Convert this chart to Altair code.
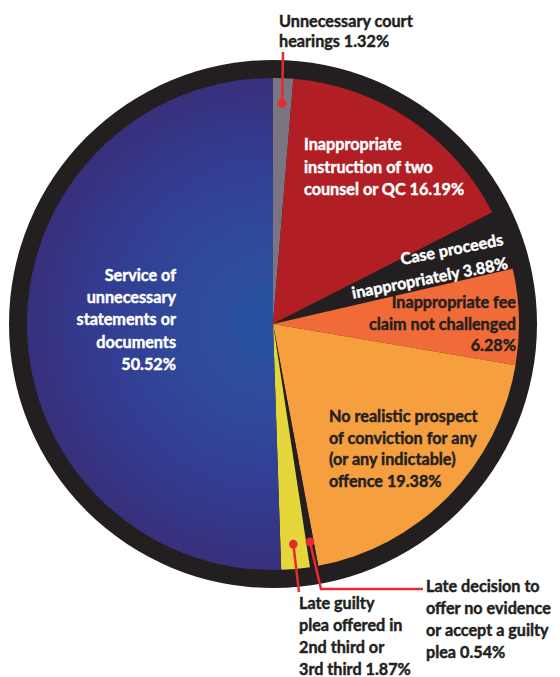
import altair as alt
import pandas as pd
import numpy as np

# ---------------- data ----------------
categories = [
    "Unnecessary court hearings",
    "Inappropriate instruction of two counsel or QC",
    "Case proceeds inappropriately",
    "Inappropriate fee claim not challenged",
    "No realistic prospect of conviction for any (or any indictable) offence",
    "Late decision to offer no evidence or accept a guilty plea",
    "Late guilty plea offered in 2nd third or 3rd third",
    "Service of unnecessary statements or documents",
]
values = [1.32, 16.19, 3.88, 6.28, 19.38, 0.54, 1.87, 50.52]
colors = ["#7a7580", "#b11f25", "#231f20", "#f06b37", "#f59f3e", "#231f20", "#e5d63b", "#34348a"]

label_lines = [
    ["Unnecessary court", "hearings {v}"],
    ["Inappropriate", "instruction of two", "counsel or QC {v}"],
    ["Case proceeds", "inappropriately {v}"],
    ["Inappropriate fee", "claim not challenged", "{v}"],
    ["No realistic prospect", "of conviction for any", "(or any indictable)", "offence {v}"],
    ["Late decision to", "offer no evidence", "or accept a guilty", "plea {v}"],
    ["Late guilty", "plea offered in", "2nd third or", "3rd third {v}"],
    ["Service of", "unnecessary", "statements or", "documents", "{v}"],
]

# ---------------- layout (page pixels) ----------------
OFF = 8
CX, CY = 273, 324
R_IN, R_OUT = 246, 264
DARK = "#231f20"
WHITE = "#ffffff"
RED = "#e62a2f"
FONT = "Lato"
FS = 16.2
FW = "bold"

# x, y (first baseline), align, angle, lineHeight, color
label_layout = [
    (279, 27, "left", 0, 20, DARK),
    (304, 150, "left", 0, 22.5, WHITE),
    (504, 245, "right", 349, 24, WHITE),
    (516, 308, "right", 0, 21.5, DARK),
    (329, 422, "left", 0, 21.7, DARK),
    (426, 592, "left", 0, 22, DARK),
    (299, 609, "left", 0, 22, DARK),
    (176, 281, "right", 0, 22.2, WHITE),
]

# leader lines: slice index -> extra points after the dot
leaders = {
    0: [(283, 52)],
    5: [(321, 589), (423, 589)],
    6: [(299, 592)],
}
DOT_R = 221

total = sum(values)
pie_df = pd.DataFrame({"cat": categories, "value": values, "idx": range(len(values))})

blue_grad = {
    "gradient": "radial",
    "x1": 0.742, "y1": 0.5, "r1": 0,
    "x2": 0.742, "y2": 0.5, "r2": 0.5,
    "stops": [
        {"offset": 0.0, "color": "#2651a0"},
        {"offset": 0.155, "color": "#2852a0"},
        {"offset": 0.175, "color": "#2d4d9d"},
        {"offset": 0.35, "color": "#2f4a9c"},
        {"offset": 0.65, "color": "#323e93"},
        {"offset": 1.0, "color": "#38307c"},
    ],
}

ring = alt.Chart(pd.DataFrame({"v": [1]})).mark_arc(
    theta=0, theta2=6.2832, outerRadius=R_OUT, innerRadius=0, color=DARK
).encode(x=alt.value(CX - OFF), y=alt.value(CY - OFF))

pie = alt.Chart(pie_df).mark_arc(outerRadius=R_IN, innerRadius=0).encode(
    theta=alt.Theta("value:Q", stack=True),
    order=alt.Order("idx:Q"),
    color=alt.condition(
        "datum.idx == 7",
        alt.value(blue_grad),
        alt.Color("cat:N", scale=alt.Scale(domain=categories, range=colors), legend=None),
    ),
    x=alt.value(CX - OFF),
    y=alt.value(CY - OFF),
)

# dot positions from slice mid-angles
vals = np.array(values)
mid = (np.cumsum(vals) - vals / 2) / total * 2 * np.pi
dot_x = CX + DOT_R * np.sin(mid)
dot_y = CY - DOT_R * np.cos(mid)

line_rows = []
dot_rows = []
for i, pts in leaders.items():
    seq = [(dot_x[i], dot_y[i])] + pts
    for k, (px, py) in enumerate(seq):
        line_rows.append({"lid": i, "k": k, "x": px - OFF, "y": py - OFF})
    dot_rows.append({"lid": i, "x": dot_x[i] - OFF, "y": dot_y[i] - OFF})

lines = alt.Chart(pd.DataFrame(line_rows)).mark_line(color=RED, strokeWidth=2.5).encode(
    x=alt.X("x:Q", scale=None, axis=None),
    y=alt.Y("y:Q", scale=None, axis=None),
    detail="lid:N",
    order="k:Q",
)
dots = alt.Chart(pd.DataFrame(dot_rows)).mark_circle(color=RED, size=75, opacity=1).encode(
    x=alt.X("x:Q", scale=None, axis=None),
    y=alt.Y("y:Q", scale=None, axis=None),
)

text_layers = []
for i, (lx, ly, al, ang, lh, col) in enumerate(label_layout):
    vtxt = f"{values[i]:.2f}%"
    txt = [s.replace("{v}", vtxt) for s in label_lines[i]]
    df = pd.DataFrame({"x": [lx - OFF], "y": [ly - OFF], "lines": [txt]})
    kw = dict(align=al, baseline="alphabetic", font=FONT, fontWeight=FW,
              fontSize=FS, lineHeight=lh, color=col, stroke=col, strokeWidth=0.45)
    if ang:
        kw["angle"] = ang
    t = alt.Chart(df).mark_text(**kw).encode(
        x=alt.X("x:Q", scale=None, axis=None),
        y=alt.Y("y:Q", scale=None, axis=None),
        text=alt.Text("lines:N"),
    )
    text_layers.append(t)

chart = alt.layer(ring, pie, lines, dots, *text_layers).properties(
    width=544, height=669, padding=0, autosize=alt.AutoSizeParams(type="none")
).configure_view(stroke=None)

chart.save("out.html", embed_options={"renderer": "svg", "actions": False})
